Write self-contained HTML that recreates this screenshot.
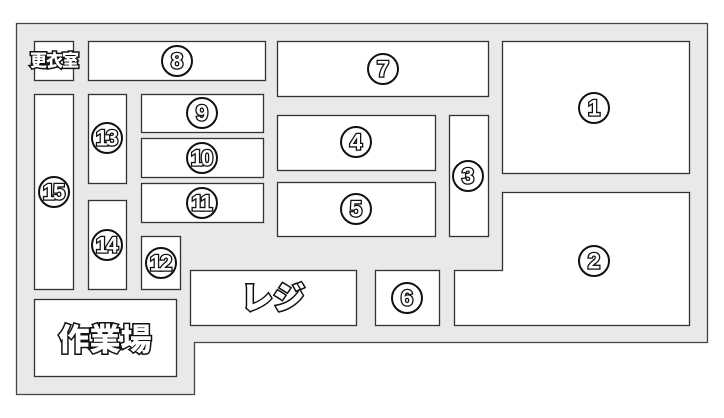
<!DOCTYPE html>
<html><head><meta charset="utf-8"><style>
html,body{margin:0;padding:0;background:#fff;width:724px;height:418px;overflow:hidden}
svg{display:block}
.r{fill:#fff;stroke:#333;stroke-width:1.3}
.c{fill:#fff;stroke:#111;stroke-width:2}
.n{font-family:"Liberation Sans",sans-serif;font-weight:bold;font-size:22px;fill:#fff;stroke:#111;stroke-width:2.6;paint-order:stroke;text-anchor:middle;dominant-baseline:central;letter-spacing:-2px}
.j{font-family:"Liberation Sans","Noto Sans CJK JP",sans-serif;font-weight:900;fill:#fff;stroke:#111;stroke-width:3;paint-order:stroke;text-anchor:middle;dominant-baseline:central}
</style></head><body>
<svg width="724" height="418" viewBox="0 0 724 418">
<polygon points="16.5,23.5 707.5,23.5 707.5,342.5 194.5,342.5 194.5,394.5 16.5,394.5" fill="#e9e9e9" stroke="#444" stroke-width="1.3"/>
<rect class="r" x="34.5" y="41.5" width="39" height="39"/>
<rect class="r" x="88.5" y="41.5" width="177" height="39"/>
<rect class="r" x="277.5" y="41.5" width="211" height="55"/>
<rect class="r" x="502.5" y="41.5" width="187" height="132"/>
<rect class="r" x="34.5" y="94.5" width="39" height="195"/>
<rect class="r" x="88.5" y="94.5" width="38" height="89"/>
<rect class="r" x="88.5" y="200.5" width="38" height="89"/>
<rect class="r" x="141.5" y="94.5" width="122" height="38"/>
<rect class="r" x="141.5" y="138.5" width="122" height="39"/>
<rect class="r" x="141.5" y="183.5" width="122" height="39"/>
<rect class="r" x="141.5" y="236.5" width="39" height="53"/>
<rect class="r" x="277.5" y="115.5" width="158" height="55"/>
<rect class="r" x="277.5" y="182.5" width="158" height="54"/>
<rect class="r" x="449.5" y="115.5" width="39" height="121"/>
<polygon class="r" points="502.5,192.5 689.5,192.5 689.5,325.5 454.5,325.5 454.5,270.5 502.5,270.5"/>
<rect class="r" x="190.5" y="270.5" width="166" height="55"/>
<rect class="r" x="375.5" y="270.5" width="64" height="55"/>
<rect class="r" x="34.5" y="299.5" width="142" height="77"/>

<text class="j" x="54" y="61" font-size="17" letter-spacing="-1">更衣室</text>
<text class="j" x="105" y="340" font-size="31">作業場</text>
<text class="j" x="273" y="298" font-size="32">レジ</text>

<g>
<circle class="c" cx="177" cy="61" r="15"/><text class="n" x="176" y="61">8</text>
<circle class="c" cx="383" cy="69" r="15"/><text class="n" x="382" y="69">7</text>
<circle class="c" cx="594" cy="108" r="15"/><text class="n" x="593" y="108">1</text>
<circle class="c" cx="594" cy="261" r="15"/><text class="n" x="593" y="261">2</text>
<circle class="c" cx="468" cy="176" r="15"/><text class="n" x="467" y="176">3</text>
<circle class="c" cx="356" cy="142" r="15"/><text class="n" x="355" y="142">4</text>
<circle class="c" cx="356" cy="209" r="15"/><text class="n" x="355" y="209">5</text>
<circle class="c" cx="407" cy="298" r="15"/><text class="n" x="406" y="298">6</text>
<circle class="c" cx="202" cy="113" r="15"/><text class="n" x="201" y="113">9</text>
<circle class="c" cx="202" cy="158" r="15"/><text class="n" x="201" y="158" font-size="19">10</text>
<circle class="c" cx="202" cy="203" r="15"/><text class="n" x="201" y="203" font-size="19">11</text>
<circle class="c" cx="161" cy="263" r="15"/><text class="n" x="160" y="263" font-size="19">12</text>
<circle class="c" cx="107" cy="138" r="15"/><text class="n" x="106" y="138" font-size="19">13</text>
<circle class="c" cx="107" cy="245" r="15"/><text class="n" x="106" y="245" font-size="19">14</text>
<circle class="c" cx="54" cy="192" r="15"/><text class="n" x="53" y="192" font-size="19">15</text>
</g>
</svg>
</body></html>
